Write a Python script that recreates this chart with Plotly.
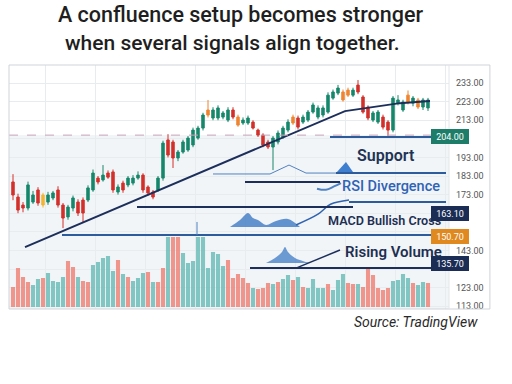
import plotly.graph_objects as go

# ---------------- data ----------------
title_lines = ["A confluence setup becomes stronger", "when several signals align together."]
source_text = "Source: TradingView"

open_ = [179.8, 171.7, 167.4, 165.8, 169.0, 175.5, 172.8, 169.0, 171.2, 175.5,
         167.4, 161.0, 165.8, 169.0, 170.1, 170.1, 175.5, 181.9, 180.9, 184.6,
         185.2, 174.4, 179.2, 178.2, 179.2, 181.9, 183.5, 177.1, 174.4, 175.5,
         181.9, 202.4, 201.3, 192.7, 195.9, 197.0, 199.7, 203.4, 208.8, 218.5,
         214.2, 214.2, 214.7, 213.1, 218.5, 214.7, 211.5, 211.5, 212.0, 207.7,
         205.0, 201.3, 198.6, 201.3, 204.0, 207.7, 214.7, 214.2, 212.0, 213.1,
         217.4, 214.7, 215.8, 217.4, 224.9, 227.6, 228.2, 229.2, 226.5, 231.9,
         225.5, 220.1, 213.1, 212.0, 214.7, 212.0, 207.7, 222.2, 218.5, 226.5,
         222.2, 223.9, 220.1, 219.6]
close = [172.8, 164.7, 165.8, 178.2, 172.8, 168.5, 167.4, 172.8, 173.9, 167.4,
         160.4, 166.3, 171.2, 163.1, 163.1, 176.6, 184.6, 179.8, 183.5, 182.4,
         175.5, 177.1, 175.5, 181.9, 181.9, 183.5, 175.5, 173.9, 171.7, 181.9,
         200.7, 194.3, 192.7, 195.9, 201.3, 203.4, 207.7, 208.8, 215.8, 215.8,
         218.5, 219.6, 216.9, 218.5, 214.7, 210.4, 213.1, 214.2, 208.8, 205.0,
         199.7, 198.6, 203.4, 206.1, 208.8, 212.0, 211.5, 209.3, 214.7, 217.4,
         221.2, 219.6, 219.6, 226.5, 228.2, 230.3, 223.9, 226.5, 229.2, 228.2,
         217.4, 214.2, 216.9, 217.4, 209.3, 207.7, 224.9, 223.9, 222.8, 222.8,
         224.9, 220.1, 223.9, 223.9]
high = [184.0, 173.5, 169.0, 180.0, 175.0, 177.0, 174.0, 174.5, 175.0, 177.5,
        168.5, 167.5, 172.5, 170.5, 171.5, 178.0, 186.5, 183.0, 188.9, 186.0,
        186.5, 178.5, 180.5, 183.0, 183.5, 185.5, 184.5, 178.0, 175.5, 183.0,
        202.0, 205.5, 202.5, 197.0, 202.5, 204.5, 209.0, 210.0, 217.0, 223.9,
        220.0, 221.0, 218.0, 220.0, 220.0, 216.0, 214.5, 215.5, 213.0, 208.5,
        206.0, 202.5, 204.5, 207.5, 210.0, 213.5, 216.0, 215.5, 216.0, 218.5,
        222.5, 221.0, 221.0, 228.0, 229.5, 232.0, 229.5, 230.5, 230.5, 234.6,
        226.5, 221.0, 218.0, 218.5, 216.0, 213.0, 226.0, 226.5, 224.0, 229.0,
        226.0, 225.0, 225.0, 225.0]
low = [170.0, 163.0, 163.5, 164.5, 168.0, 167.0, 166.0, 167.5, 170.0, 166.0,
       155.0, 159.5, 164.0, 161.5, 158.0, 169.0, 174.5, 178.5, 180.0, 181.5,
       174.0, 173.0, 174.0, 177.0, 178.0, 181.0, 174.0, 172.5, 170.5, 174.5,
       180.5, 193.0, 187.3, 191.0, 195.0, 196.0, 198.5, 202.5, 207.5, 214.5,
       213.0, 213.0, 213.5, 212.0, 213.5, 209.5, 210.5, 210.5, 208.0, 204.0,
       198.5, 197.5, 186.2, 200.0, 203.0, 206.5, 210.5, 208.0, 211.0, 212.0,
       216.5, 213.5, 214.5, 216.5, 224.0, 226.5, 223.0, 225.5, 225.5, 227.0,
       216.5, 213.0, 212.0, 211.0, 208.0, 204.0, 206.5, 221.0, 217.5, 221.5,
       220.5, 219.0, 218.5, 218.0]
candle_color = list("rrrggryggr" "rggrrggrgr" "rgrgggrrrg" "grrggggggo"
                    "ggggroggrr" "rrggggorgg" "ggggggoogr" "rrggrrgggo" "gogg")

volume = [200, 390, 300, 250, 220, 280, 290, 340, 260, 250,
          300, 460, 400, 300, 260, 250, 420, 450, 490, 510,
          360, 470, 330, 300, 260, 290, 340, 350, 250, 250,
          390, 700, 700, 700, 540, 440, 460, 700, 700, 390,
          550, 530, 410, 470, 290, 330, 290, 240, 190, 180,
          190, 240, 230, 250, 280, 320, 270, 300, 200, 190,
          280, 190, 190, 230, 170, 270, 330, 240, 230, 230,
          200, 390, 320, 190, 170, 190, 260, 270, 330, 290,
          240, 220, 250, 240]
volume_color = list("rrrrttrttt" "trrtrrtttt" "trtrtttrtr" "rtrrtttttt"
                    "tttrrrrrtr" "rrtrttrtrt" "tttrtttrrt" "rrrrrrtttt" "rttr")

price_ticks = [113, 123, 133, 143, 153, 163, 173, 183, 193, 203, 213, 223, 233]
price_tick_labels = ["113.00", "123.00", "", "143.00", "", "", "173.00",
                     "183.00", "193.00", "", "213.00", "223.00", "233.00"]

badge_values = [204.0, 163.1, 150.7, 135.7]
badge_labels = ["204.00", "163.10", "150.70", "135.70"]
badge_colors = ["#1d7d69", "#1b2d55", "#e0891f", "#1b2d55"]

signal_labels = ["Support", "RSI Divergence", "MACD Bullish Cross", "Rising Volume"]
signal_x = [74.6, 75.6, 74.2, 76.0]
signal_y = [193.8, 177.6, 159.3, 142.1]

resistance_level = 205.0
trend_x = [2.4, 66.4, 77.4, 83.4]
trend_y = [144.8, 217.9, 222.2, 223.3]

# ---------------- figure ----------------
fig = go.Figure()

vcol = {"r": "rgba(238,122,108,0.78)", "t": "rgba(98,184,178,0.78)"}
fig.add_trace(go.Bar(x=list(range(len(volume))), y=volume, yaxis="y2", width=0.82,
                     marker=dict(color=[vcol[c] for c in volume_color], line=dict(width=0)),
                     showlegend=False, hoverinfo="skip"))

ccol = {"g": "#16876b", "r": "#d3302c", "o": "#f08430", "y": "#f2b533"}
for key, colr in ccol.items():
    idx = [i for i, c in enumerate(candle_color) if c == key]
    fig.add_trace(go.Candlestick(
        x=idx, open=[open_[i] for i in idx], high=[high[i] for i in idx],
        low=[low[i] for i in idx], close=[close[i] for i in idx],
        increasing=dict(line=dict(color=colr, width=1), fillcolor=colr),
        decreasing=dict(line=dict(color=colr, width=1), fillcolor=colr),
        whiskerwidth=0, showlegend=False))

navy = "#1c2f5a"
blue = "#2d5c9c"
fig.add_trace(go.Scatter(x=trend_x, y=trend_y, mode="lines",
                         line=dict(color=navy, width=2), showlegend=False))

# decorative indicator sketches
fig.add_trace(go.Scatter(x=[40, 51.4, 55.2, 58.6, 64.6], y=[184.1, 184.1, 188.9, 184.6, 184.6],
                         mode="lines", line=dict(color="#4f82c2", width=1), showlegend=False))
fig.add_trace(go.Scatter(x=[64.6, 66.6, 68.0, 64.6], y=[184.6, 190.5, 185.2, 184.6], fill="toself",
                         mode="lines", line=dict(width=0), fillcolor="#3f7fcf", showlegend=False))
fig.add_trace(go.Scatter(x=[43.4, 45.4, 47, 48, 49, 50.6, 52.6, 55, 57.4],
                         y=[155.6, 159.3, 163.1, 160.4, 159.3, 156.7, 158.8, 159.9, 155.6],
                         fill="toself", mode="lines", line=dict(width=0, shape="spline"),
                         fillcolor="rgba(62,122,196,0.8)", showlegend=False))
fig.add_trace(go.Scatter(x=[50.6, 52.4, 53.8, 54.4, 55, 56.4, 59.4],
                         y=[136.2, 138.9, 142.1, 144.8, 142.1, 138.9, 136.2],
                         fill="toself", mode="lines", line=dict(width=0, shape="spline"),
                         fillcolor="rgba(62,122,196,0.75)", showlegend=False))
fig.add_trace(go.Scatter(x=[56.6, 61, 63.5, 67.2], y=[156.7, 162.5, 167.8, 170.1], mode="lines",
                         line=dict(color="#2f63b0", width=1.5, shape="spline"), showlegend=False))
fig.add_trace(go.Scatter(x=[56.6, 65.4], y=[133.5, 143.2], mode="lines",
                         line=dict(color=navy, width=1.5), showlegend=False))
fig.add_trace(go.Scatter(x=[60.8, 62.6, 64.2, 65.6], y=[176.2, 175.6, 177.4, 179.2], mode="lines",
                         line=dict(color="#4f82c2", width=2, shape="spline"), showlegend=False))

shapes = []
shapes.append(dict(type="rect", xref="paper", yref="y", x0=0, x1=1, y0=111.5, y1=resistance_level,
                   fillcolor="#f2f5f8", line=dict(width=0), layer="below"))
shapes.append(dict(type="line", xref="paper", yref="y", x0=0, x1=1, y0=resistance_level,
                   y1=resistance_level, line=dict(color="#c7a2b6", width=1, dash="dash")))
hlines = [(63.4, 87.2, 204.0, blue), (64.6, 86.6, 184.6, blue), (46.4, 65.4, 179.8, navy),
          (67.2, 86.6, 169.0, blue), (24.8, 68.0, 166.3, navy), (9.8, 86.6, 151.3, blue),
          (47.4, 86.8, 133.5, navy)]
for x0, x1, yv, c in hlines:
    shapes.append(dict(type="line", xref="x", yref="y", x0=x0, x1=x1, y0=yv, y1=yv,
                       line=dict(color=c, width=2)))
shapes.append(dict(type="line", xref="x", yref="y", x0=36.8, x1=36.8, y0=151.3, y1=158.3,
                   line=dict(color="#4f82c2", width=1)))
shapes.append(dict(type="rect", xref="paper", yref="paper", x0=0, x1=1.093, y0=0, y1=1,
                   line=dict(color="#cfd3d8", width=1), fillcolor="rgba(0,0,0,0)"))
shapes.append(dict(type="line", xref="paper", yref="paper", x0=1, x1=1, y0=0, y1=1,
                   line=dict(color="#e3e6ea", width=1)))

annotations = []
annotations.append(dict(xref="paper", yref="paper", x=0.525, y=1.205, yanchor="middle",
                        text=title_lines[0], showarrow=False,
                        font=dict(family="Roboto", size=21.5, color="#1f1f1f", weight=500)))
annotations.append(dict(xref="paper", yref="paper", x=0.507, y=1.090, yanchor="middle",
                        text=title_lines[1], showarrow=False,
                        font=dict(family="Roboto", size=21, color="#1f1f1f", weight=500)))
annotations.append(dict(xref="paper", yref="paper", x=1.070, y=-0.053, xanchor="right",
                        yanchor="middle", text="<i>" + source_text + "</i>", showarrow=False,
                        font=dict(family="Roboto", size=14, color="#2a2a2a")))
sig_fonts = [dict(size=16, color="#1f3354", weight=600), dict(size=14.5, color="#2e63b5", weight=500),
             dict(size=12.6, color="#1d2f52", weight=600), dict(size=15, color="#1d2f52", weight=600)]
for t, xv, yv, f in zip(signal_labels, signal_x, signal_y, sig_fonts):
    annotations.append(dict(xref="x", yref="y", x=xv, y=yv, text=t, showarrow=False,
                            font=dict(family="Roboto", **f)))
for v, t, c in zip(badge_values, badge_labels, badge_colors):
    annotations.append(dict(xref="paper", yref="y", x=1.046, y=v, text=t, showarrow=False,
                            bgcolor=c, bordercolor=c, borderpad=1, width=34, height=11,
                            font=dict(family="Roboto", size=9, color="white")))

fig.update_layout(
    width=512, height=384,
    margin=dict(l=9, r=63, t=65, b=75),
    paper_bgcolor="white", plot_bgcolor="white",
    barmode="overlay",
    xaxis=dict(range=[-0.8, 87.2], showgrid=True, gridcolor="#e9ecef", tick0=6.4, dtick=10,
               showticklabels=False, zeroline=False, rangeslider=dict(visible=False), showline=False),
    yaxis=dict(range=[111.5, 242.7], side="right", tickvals=price_ticks, ticktext=price_tick_labels,
               showgrid=True, gridcolor="#e9ecef", zeroline=False, ticks="",
               tickfont=dict(family="Roboto", size=9, color="#555"), ticklabelstandoff=6),
    yaxis2=dict(range=[-20, 2420], overlaying="y", visible=False),
    shapes=shapes, annotations=annotations,
)

# remove the default 8px page margin so the figure fills the window exactly
fig.write_html("out.html", config={"displayModeBar": False},
               post_script="document.body.style.margin='0';document.body.style.overflow='hidden';")
